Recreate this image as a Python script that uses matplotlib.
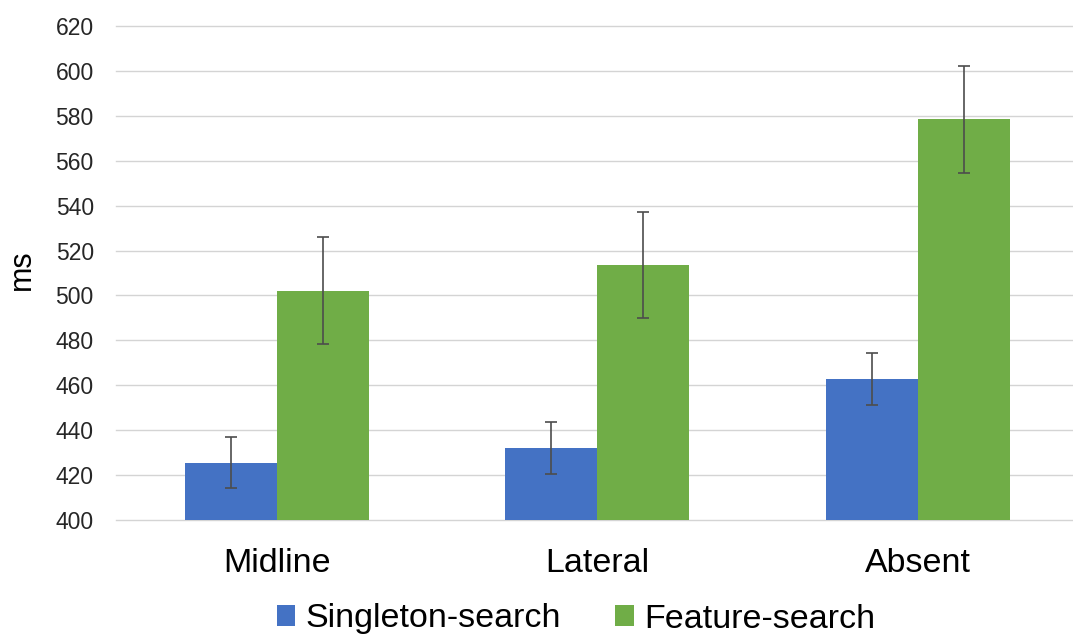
import matplotlib
matplotlib.use("Agg")
import matplotlib.pyplot as plt
import numpy as np
from matplotlib.patches import Patch

categories = ["Midline", "Lateral", "Absent"]
singleton = [425.6, 432.2, 462.8]
singleton_err = [11.5, 11.5, 11.5]
feature = [502.2, 513.5, 578.5]
feature_err = [23.7, 23.7, 23.8]
series_names = ["Singleton-search", "Feature-search"]
colors = ["#4472C4", "#70AD47"]

plt.rcParams['font.family'] = ['Liberation Sans', 'DejaVu Sans']

W, H = 1073, 637
fig = plt.figure(figsize=(W / 100, H / 100), dpi=100)
left, right = 116 / W, 1.0
bottom, top = 1 - 520 / H, 1 - 26 / H
ax = fig.add_axes([left, bottom, right - left, top - bottom])

x = np.arange(len(categories))
bw = 0.287
ekw = dict(ecolor="#4d4d4d", elinewidth=1.2, capsize=4, capthick=1.2)
ax.bar(x - bw / 2, np.array(singleton) - 400, bw, bottom=400, color=colors[0],
       yerr=singleton_err, error_kw=ekw, zorder=3)
ax.bar(x + bw / 2, np.array(feature) - 400, bw, bottom=400, color=colors[1],
       yerr=feature_err, error_kw=ekw, zorder=3)

ax.set_ylim(400, 620)
ax.set_yticks(np.arange(400, 621, 20))
ax.set_xlim(-0.502, 2.484)
ax.set_xticks(x)
ax.set_xticklabels(categories, fontsize=24.5)
ax.tick_params(axis='x', length=0, pad=20)
ax.tick_params(axis='y', length=0, pad=16, labelsize=16.5, labelcolor="#262626")
ax.grid(axis='y', color="#d4d4d4", linewidth=1.0, zorder=0)
for gl in ax.get_ygridlines():
    gl.set_clip_on(False)
ax.set_axisbelow(True)
for s in ax.spines.values():
    s.set_visible(False)

fig.text(22 / W, 1 - 270 / H, "ms", rotation=90, fontsize=22, ha='center', va='center')

handles = [Patch(facecolor=c, label=n) for c, n in zip(colors, series_names)]
fig.legend(handles=handles, loc='center', bbox_to_anchor=(576 / W, 1 - 619 / H), ncol=2,
           frameon=False, fontsize=24.5, handlelength=0.55, handleheight=0.55,
           handletextpad=0.3, columnspacing=1.6)

fig.savefig("out.png", dpi=100)
